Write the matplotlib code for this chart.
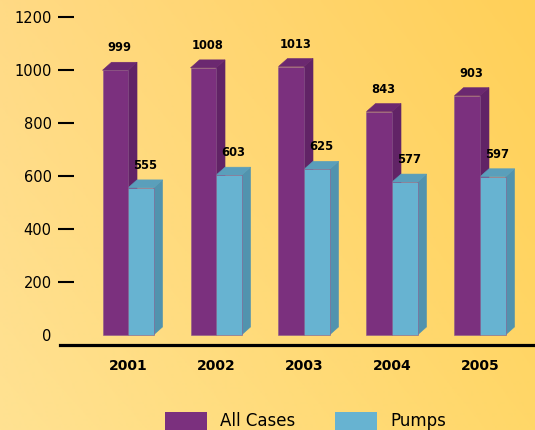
import numpy as np
import matplotlib.pyplot as plt
from matplotlib.patches import Rectangle, Polygon
from matplotlib.transforms import offset_copy

years = ['2001', '2002', '2003', '2004', '2005']
all_cases = [999, 1008, 1013, 843, 903]
pumps = [555, 603, 625, 577, 597]
y_ticks = [0, 200, 400, 600, 800, 1000, 1200]

purple = ('#7b307e', '#612366', '#6b2870')   # front, side, top
blue = ('#67b3d1', '#5193ae', '#5a9fbb')

W, H, DPI = 535, 430, 100
fig = plt.figure(figsize=(W / DPI, H / DPI), dpi=DPI)

# background: yellow gradient blended from the four corners
bg = fig.add_axes([0, 0, 1, 1], zorder=-10)
gx, gy = np.meshgrid(np.linspace(0, 1, 200), np.linspace(0, 1, 200))
bl = np.array([255, 226, 146]) / 255
br = np.array([255, 215, 104]) / 255
tl = np.array([255, 218, 133]) / 255
tr = np.array([255, 208, 88]) / 255
gx, gy = gx[..., None], gy[..., None]
img = (bl * (1 - gx) * (1 - gy) + br * gx * (1 - gy)
       + tl * (1 - gx) * gy + tr * gx * gy)
bg.imshow(img, origin='lower', extent=[0, 1, 0, 1], aspect='auto')
bg.axis('off')

# plot area in pixels
left, right = 74, 535
bottom, top = 85, 413
ax = fig.add_axes([left / W, bottom / H, (right - left) / W, (top - bottom) / H])
ax.set_facecolor('none')
ax.set_xlim(-0.614, 4.625)
ax.set_ylim(-38, 1200)

bw = 0.29          # bar width in data units
dx, dy = 9, 8      # depth offset in pixels


def bar3d(x0, val, cols):
    front, side, topc = cols
    ax.add_patch(Rectangle((x0, 0), bw, val, facecolor=front, edgecolor='#8a5a8a',
                           linewidth=0.4, zorder=3))
    tr = ax.transData
    inv = tr.inverted()
    fr = tr.transform([(x0 + bw, 0), (x0 + bw, val)])
    tp = tr.transform([(x0, val), (x0 + bw, val)])
    side_pts = [fr[0], fr[1], fr[1] + [dx, dy], fr[0] + [dx, dy]]
    top_pts = [tp[0], tp[1], tp[1] + [dx, dy], tp[0] + [dx, dy]]
    ax.add_patch(Polygon(inv.transform(side_pts), closed=True, facecolor=side,
                         edgecolor=side, linewidth=0.4, zorder=2))
    ax.add_patch(Polygon(inv.transform(top_pts), closed=True, facecolor=topc,
                         edgecolor=topc, linewidth=0.4, zorder=2))
    ax.text(x0 + bw / 2, val, str(val), ha='center', va='bottom',
            fontsize=8.3, fontweight='bold', color='black',
            transform=offset_copy(ax.transData, fig=fig, x=dx / 2, y=dy + 8, units='dots'))


for i in range(len(years)):
    bar3d(i - bw, all_cases[i], purple)
    bar3d(i, pumps[i], blue)

# axes styling
for s in ax.spines.values():
    s.set_visible(False)
ax.set_xticks(range(len(years)))
ax.set_xticklabels(years, fontsize=10, fontweight='bold')
ax.tick_params(axis='x', length=0, pad=10)
ax.set_yticks(y_ticks)
ax.set_yticklabels([str(v) for v in y_ticks], fontsize=10.5)
ax.tick_params(axis='y', direction='out', length=11.5, width=1.5, pad=4.5, color='black')
ax.yaxis.get_major_ticks()[0].tick1line.set_visible(False)

# baseline running under the bars
fig.add_artist(plt.Line2D([60 / W, 1], [(H - 345) / H] * 2, color='black', linewidth=2.3))

# legend at bottom, partly cut off
for x0, col, lab in [(165, purple[0], 'All Cases'), (335, blue[0], 'Pumps')]:
    fig.add_artist(Rectangle((x0 / W, -0.01), 42 / W, (430 - 412) / H + 0.01,
                             transform=fig.transFigure, facecolor=col, edgecolor='none'))
    fig.text((x0 + 55) / W, (430 - 421) / H, lab, fontsize=12, va='center', ha='left')

fig.savefig('out.png', dpi=DPI)
